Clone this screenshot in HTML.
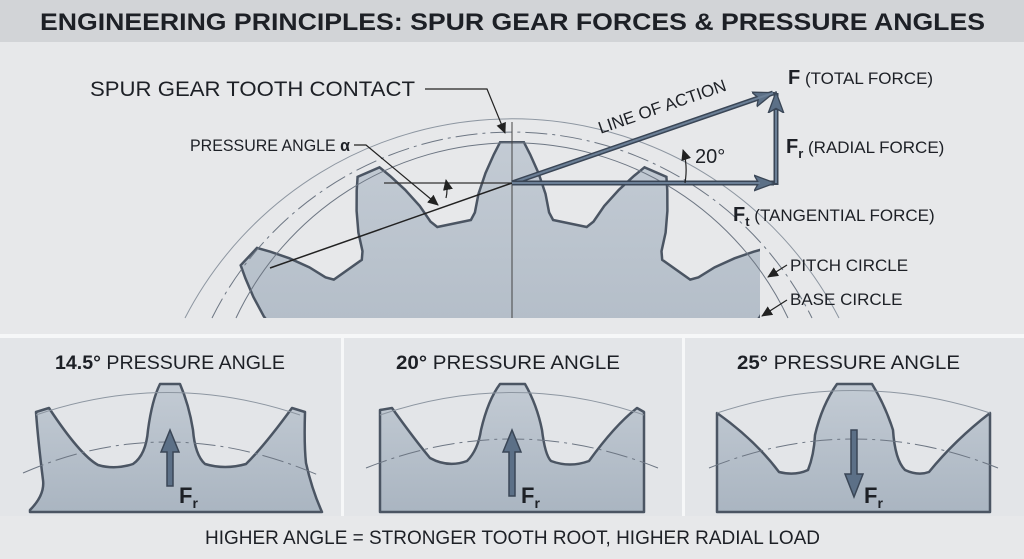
<!DOCTYPE html>
<html><head><meta charset="utf-8"><style>
html,body{margin:0;padding:0;width:1024px;height:559px;overflow:hidden;background:#e7e8ea;font-family:"Liberation Sans",Arial,sans-serif}
svg{display:block}
</style></head><body>
<svg id="s" width="1024" height="559" viewBox="0 0 1024 559" xmlns="http://www.w3.org/2000/svg" font-family="Liberation Sans, Arial, sans-serif">
<defs>
<linearGradient id="g" x1="0" y1="0" x2="0" y2="1">
<stop offset="0" stop-color="#c3cbd4"/><stop offset="1" stop-color="#aab5c1"/></linearGradient>
<clipPath id="c1"><rect x="222" y="0" width="538" height="318"/></clipPath>
<marker id="ah" viewBox="0 0 12 12" refX="10" refY="6" markerWidth="12" markerHeight="12" markerUnits="userSpaceOnUse" orient="auto"><path d="M0,1 L11,6 L0,11 Z" fill="#222"/></marker>
<marker id="big" viewBox="0 0 20 16" refX="18" refY="8" markerWidth="22" markerHeight="18" markerUnits="userSpaceOnUse" orient="auto"><path d="M0,1 L19,8 L0,15 L4,8 Z" fill="#5c7087" stroke="#3a4656" stroke-width="1.2"/></marker>
</defs>
<rect x="0" y="0" width="1024" height="559" fill="#e7e8ea"/>
<rect x="0" y="0" width="1024" height="42" fill="#d2d4d7"/>
<text x="40" y="30" font-size="24" font-weight="bold" fill="#1d2026" textLength="945" lengthAdjust="spacingAndGlyphs">ENGINEERING PRINCIPLES: SPUR GEAR FORCES &amp; PRESSURE ANGLES</text>

<!-- main gear -->
<path id="gear" clip-path="url(#c1)" fill="url(#g)" stroke="#4b5563" stroke-width="2.5" d=""/>
<g fill="none" stroke="#8d96a1" stroke-width="1">
<path d="M185,318 A368,368 0 0 1 839,318"/>
<path d="M212,318 A335,335 0 0 1 812,318" stroke-dasharray="22,5,3,5" stroke="#6d7683"/>
<path d="M236,318 A305,305 0 0 1 788,318" stroke="#6d7683"/>
</g>
<line x1="512" y1="122" x2="512" y2="318" stroke="#444" stroke-width="1"/>
<line x1="384" y1="183" x2="512" y2="183" stroke="#333" stroke-width="1.2"/>
<line x1="270" y1="268" x2="512" y2="183" stroke="#222" stroke-width="1.5"/>
<!-- force arrows -->
<line x1="512" y1="183" x2="773" y2="93" stroke="#3a4656" stroke-width="5" marker-end="url(#big)"/>
<line x1="512" y1="183" x2="773" y2="93" stroke="#6b7f96" stroke-width="2"/>
<line x1="512" y1="183" x2="774" y2="183" stroke="#3a4656" stroke-width="5" marker-end="url(#big)"/>
<line x1="512" y1="183" x2="760" y2="183" stroke="#6b7f96" stroke-width="2"/>
<line x1="776" y1="185" x2="776" y2="93" stroke="#3a4656" stroke-width="5" marker-end="url(#big)"/>
<line x1="776" y1="183" x2="776" y2="110" stroke="#6b7f96" stroke-width="2"/>
<text transform="translate(664,112) rotate(-19)" text-anchor="middle" font-size="17" fill="#1d2026">LINE OF ACTION</text>
<path d="M685,183 Q688,165 683,150" fill="none" stroke="#222" stroke-width="1.2" marker-end="url(#ah)"/>
<text x="695" y="163" font-size="20" fill="#1d2026">20°</text>
<!-- labels -->
<text x="90" y="96" font-size="21" fill="#1d2026" textLength="325" lengthAdjust="spacingAndGlyphs">SPUR GEAR TOOTH CONTACT</text>
<polyline points="425,89 487,89 505,133" fill="none" stroke="#222" stroke-width="1.2" marker-end="url(#ah)"/>
<text x="190" y="151" font-size="17" fill="#1d2026" textLength="160" lengthAdjust="spacingAndGlyphs">PRESSURE ANGLE <tspan font-weight="bold">α</tspan></text>
<polyline points="354,145 366,145 438,205" fill="none" stroke="#222" stroke-width="1.2" marker-end="url(#ah)"/>
<path d="M446,198 Q448,190 446,180" fill="none" stroke="#222" stroke-width="1.2" marker-end="url(#ah)"/>
<text x="788" y="84" font-size="17" fill="#1d2026"><tspan font-size="20" font-weight="bold">F</tspan> (TOTAL FORCE)</text>
<text x="786" y="153" font-size="17" fill="#1d2026"><tspan font-size="20" font-weight="bold">F</tspan><tspan font-size="13" font-weight="bold" dy="5">r</tspan><tspan dy="-5"> (RADIAL FORCE)</tspan></text>
<text x="733" y="221" font-size="17" fill="#1d2026"><tspan font-size="20" font-weight="bold">F</tspan><tspan font-size="13" font-weight="bold" dy="5">t</tspan><tspan dy="-5"> (TANGENTIAL FORCE)</tspan></text>
<text x="790" y="271" font-size="17" fill="#1d2026">PITCH CIRCLE</text>
<text x="790" y="305" font-size="17" fill="#1d2026">BASE CIRCLE</text>
<line x1="787" y1="265" x2="768" y2="277" stroke="#222" stroke-width="1.2" marker-end="url(#ah)"/>
<line x1="787" y1="300" x2="762" y2="316" stroke="#222" stroke-width="1.2" marker-end="url(#ah)"/>

<!-- bottom panels -->
<rect x="0" y="334" width="1024" height="4" fill="#f6f7f8"/>
<rect x="0" y="338" width="341" height="178" fill="#e3e5e8"/>
<rect x="344" y="338" width="338" height="178" fill="#e3e5e8"/>
<rect x="685" y="338" width="339" height="178" fill="#e3e5e8"/>
<rect x="341" y="338" width="3" height="178" fill="#f6f7f8"/>
<rect x="682" y="338" width="3" height="178" fill="#f6f7f8"/>
<text x="55" y="369" font-size="19" fill="#1d2026" textLength="230" lengthAdjust="spacingAndGlyphs"><tspan font-weight="bold">14.5°</tspan> PRESSURE ANGLE</text>
<text x="396" y="369" font-size="19" fill="#1d2026" textLength="224" lengthAdjust="spacingAndGlyphs"><tspan font-weight="bold">20°</tspan> PRESSURE ANGLE</text>
<text x="737" y="369" font-size="19" fill="#1d2026" textLength="223" lengthAdjust="spacingAndGlyphs"><tspan font-weight="bold">25°</tspan> PRESSURE ANGLE</text>

<g fill="url(#g)" stroke="#4b5563" stroke-width="2.5" stroke-linejoin="round">
<path d="M30,512 L30,510 Q45,495 43,480 Q38,440 36,412 L49,408 Q80,455 98,465 Q115,470 133,464 Q146,455 148,430 Q152,400 160,384 L180,384 Q189,405 193,430 Q195,455 205,464 Q225,470 246,464 Q265,445 292,408 L305,412 Q304,445 306,463 Q312,490 322,512 Z"/>
<path d="M380,512 L380,410 L392,408 Q415,440 430,458 Q448,468 467,461 Q478,450 481,430 Q488,400 500,384 L525,384 Q537,405 542,430 Q545,455 551,461 Q570,468 589,461 Q615,425 637,408 L644,412 L644,512 Z"/>
<path d="M717,512 L717,413 Q755,440 779,472 Q795,476 808,470 Q814,455 815,435 Q822,405 837,384 L872,384 Q885,405 893,430 Q895,460 905,470 Q918,476 929,472 Q955,440 990,413 L990,512 Z"/>
</g>
<g fill="none" stroke="#8d96a1" stroke-width="1">
<path d="M36,415 Q167,370 300,415"/><path d="M23,473 Q167,410 318,475" stroke-dasharray="22,5,3,5" stroke="#6d7683"/>
<path d="M380,415 Q512,370 644,415"/><path d="M366,468 Q512,410 658,468" stroke-dasharray="22,5,3,5" stroke="#6d7683"/>
<path d="M717,413 Q853,368 990,413"/><path d="M709,468 Q853,410 998,468" stroke-dasharray="22,5,3,5" stroke="#6d7683"/>
</g>
<!-- Fr arrows -->
<g fill="#5c7087" stroke="#3a4656" stroke-width="1.5">
<path d="M167,486 L167,452 L161,452 L170,430 L179,452 L173,452 L173,486 Z"/>
<path d="M509,496 L509,452 L503,452 L512,430 L521,452 L515,452 L515,496 Z"/>
<path d="M851,430 L851,474 L845,474 L854,497 L863,474 L857,474 L857,430 Z"/>
</g>
<g font-size="22" font-weight="bold" fill="#1d2026">
<text x="179" y="503">F<tspan font-size="14" dy="5">r</tspan></text>
<text x="521" y="503">F<tspan font-size="14" dy="5">r</tspan></text>
<text x="864" y="503">F<tspan font-size="14" dy="5">r</tspan></text>
</g>
<text x="205" y="544" font-size="19" fill="#1d2026" textLength="615" lengthAdjust="spacingAndGlyphs">HIGHER ANGLE = STRONGER TOOTH ROOT, HIGHER RADIAL LOAD</text>
</svg>
<script>
(function(){
var cx=512,cy=502,prof=[[-8.3,285],[-7.3,292],[-6.2,310],[-4.6,330],[-3.0,348],[-1.9,360],[1.9,360],[3.0,348],[4.6,330],[6.2,310],[7.3,292],[8.3,285]];
var d="M150,340 L150,300";
for(var k=-3;k<=3;k++){var a=k*23.5;for(var i=0;i<prof.length;i++){var t=(a+prof[i][0])*Math.PI/180,R=prof[i][1];
d+=" L"+(cx+R*Math.sin(t)).toFixed(1)+","+(cy-R*Math.cos(t)).toFixed(1);}}
d+=" L880,300 L880,340 Z";
document.getElementById("gear").setAttribute("d",d);
})();
</script>
</body></html>
